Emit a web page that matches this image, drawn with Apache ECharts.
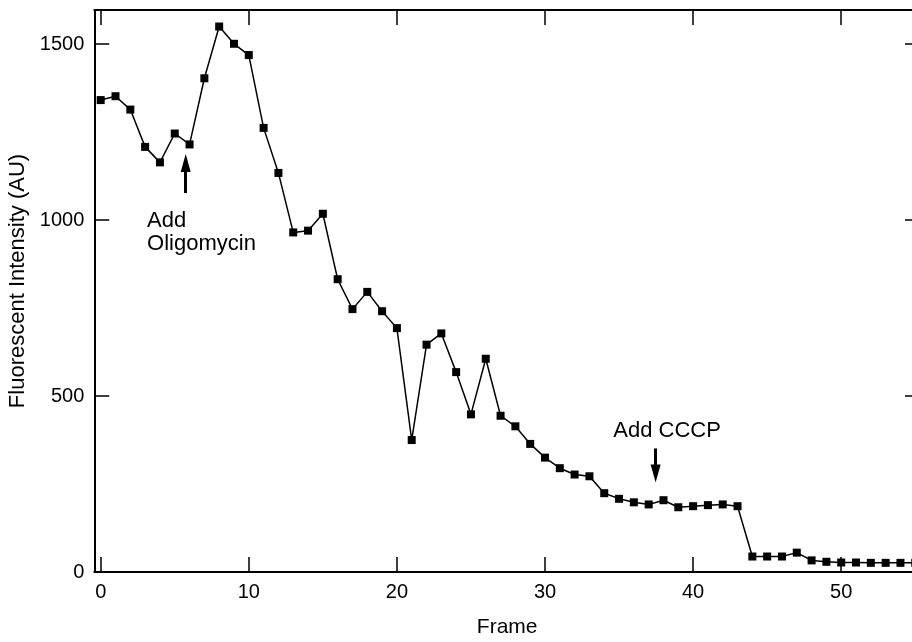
<!DOCTYPE html>
<html>
<head>
<meta charset="utf-8">
<script src="https://cdn.jsdelivr.net/npm/echarts@6/dist/echarts.min.js"></script>
<style>
html,body{margin:0;padding:0;background:#fff;}
#chart{width:912px;height:642px;}
</style>
</head>
<body>
<div id="chart"></div>
<script>
// Frame numbers
const frames = [0,1,2,3,4,5,6,7,8,9,10,11,12,13,14,15,16,17,18,19,20,21,22,23,24,25,26,27,28,29,30,31,32,33,34,35,36,37,38,39,40,41,42,43,44,45,46,47,48,49,50,51,52,53,54,55];
// Fluorescent intensity (AU)
const intensity = [1341,1352,1314,1208,1164,1246,1215,1403,1550,1501,1469,1262,1134,965,970,1018,832,747,796,741,693,375,646,678,568,448,606,444,414,364,325,295,277,272,224,208,198,192,204,184,187,190,192,187,44,44,44,55,33,29,27,27,26,26,26,26];
const xTicks = [0,10,20,30,40,50];
const yTicks = [0,500,1000,1500];
// annotations: [x, y] in data units
const oligoText = {coord:[3.13, 966], text:'Add\nOligomycin'};
const oligoArrow = [[5.74, 1077], [5.74, 1162]];
const cccpText = {coord:[34.61, 402], text:'Add CCCP'};
const cccpArrow = [[37.47, 351], [37.47, 280]];

const FONT = "'Liberation Sans', Arial, Helvetica, sans-serif";
const black = '#000';

const data = frames.map((f,i)=>[f, intensity[i]]);

const chart = echarts.init(document.getElementById('chart'), null, {renderer:'canvas'});

const commonLine = {show:true, onZero:false, lineStyle:{color:black, width:2}};
const commonTick = {show:true, inside:true, length:15, lineStyle:{color:black, width:1.5}};
const plain = (v)=>String(v);

chart.setOption({
  animation:false,
  backgroundColor:'#fff',
  textStyle:{fontFamily:FONT},
  grid:{left:94.3, width:825.7, top:10, height:562, containLabel:false, outerBoundsMode:'none'},
  xAxis:[
    {type:'value', position:'bottom', min:-0.432, max:55.32,
     axisLine:commonLine,
     axisTick:Object.assign({}, commonTick, {customValues:xTicks}),
     axisLabel:{show:true, customValues:xTicks, formatter:plain, color:black, fontSize:20, fontFamily:FONT, margin:10},
     splitLine:{show:false},
     name:'Frame', nameLocation:'middle', nameGap:45,
     nameTextStyle:{color:black, fontSize:21, fontFamily:FONT}},
    {type:'value', position:'top', min:-0.432, max:55.32,
     axisLine:commonLine,
     axisTick:Object.assign({}, commonTick, {customValues:xTicks}),
     axisLabel:{show:false},
     splitLine:{show:false}}
  ],
  yAxis:[
    {type:'value', position:'left', min:0, max:1597,
     axisLine:commonLine,
     axisTick:Object.assign({}, commonTick, {customValues:yTicks}),
     axisLabel:{show:true, customValues:yTicks, formatter:plain, color:black, fontSize:20, fontFamily:FONT, margin:10},
     splitLine:{show:false},
     name:'Fluorescent Intensity (AU)', nameLocation:'middle', nameGap:54, nameRotate:90,
     nameTextStyle:{color:black, fontSize:22, fontFamily:FONT, padding:[0,0,0,20]}},
    {type:'value', position:'right', min:0, max:1597,
     axisLine:commonLine,
     axisTick:Object.assign({}, commonTick, {customValues:yTicks}),
     axisLabel:{show:false},
     splitLine:{show:false}}
  ],
  series:[
    {type:'line', xAxisIndex:0, yAxisIndex:0, data:data,
     symbol:'rect', symbolSize:8, showAllSymbol:true,
     itemStyle:{color:black}, lineStyle:{color:black, width:1.5},
     markPoint:{
       symbol:'rect', symbolSize:0, silent:true,
       label:{show:true, position:'inside', align:'left', verticalAlign:'middle',
              color:black, fontSize:22, fontFamily:FONT, lineHeight:23,
              formatter:(p)=>p.name},
       data:[
         {name:oligoText.text, coord:oligoText.coord},
         {name:cccpText.text, coord:cccpText.coord}
       ]
     },
     markLine:{
       silent:true, symbol:['none','triangle'], symbolSize:[10,18],
       label:{show:false},
       lineStyle:{color:black, width:3, type:'solid'},
       data:[
         [{coord:oligoArrow[0]}, {coord:oligoArrow[1]}],
         [{coord:cccpArrow[0]}, {coord:cccpArrow[1]}]
       ]
     }
    }
  ]
});
</script>
</body>
</html>
